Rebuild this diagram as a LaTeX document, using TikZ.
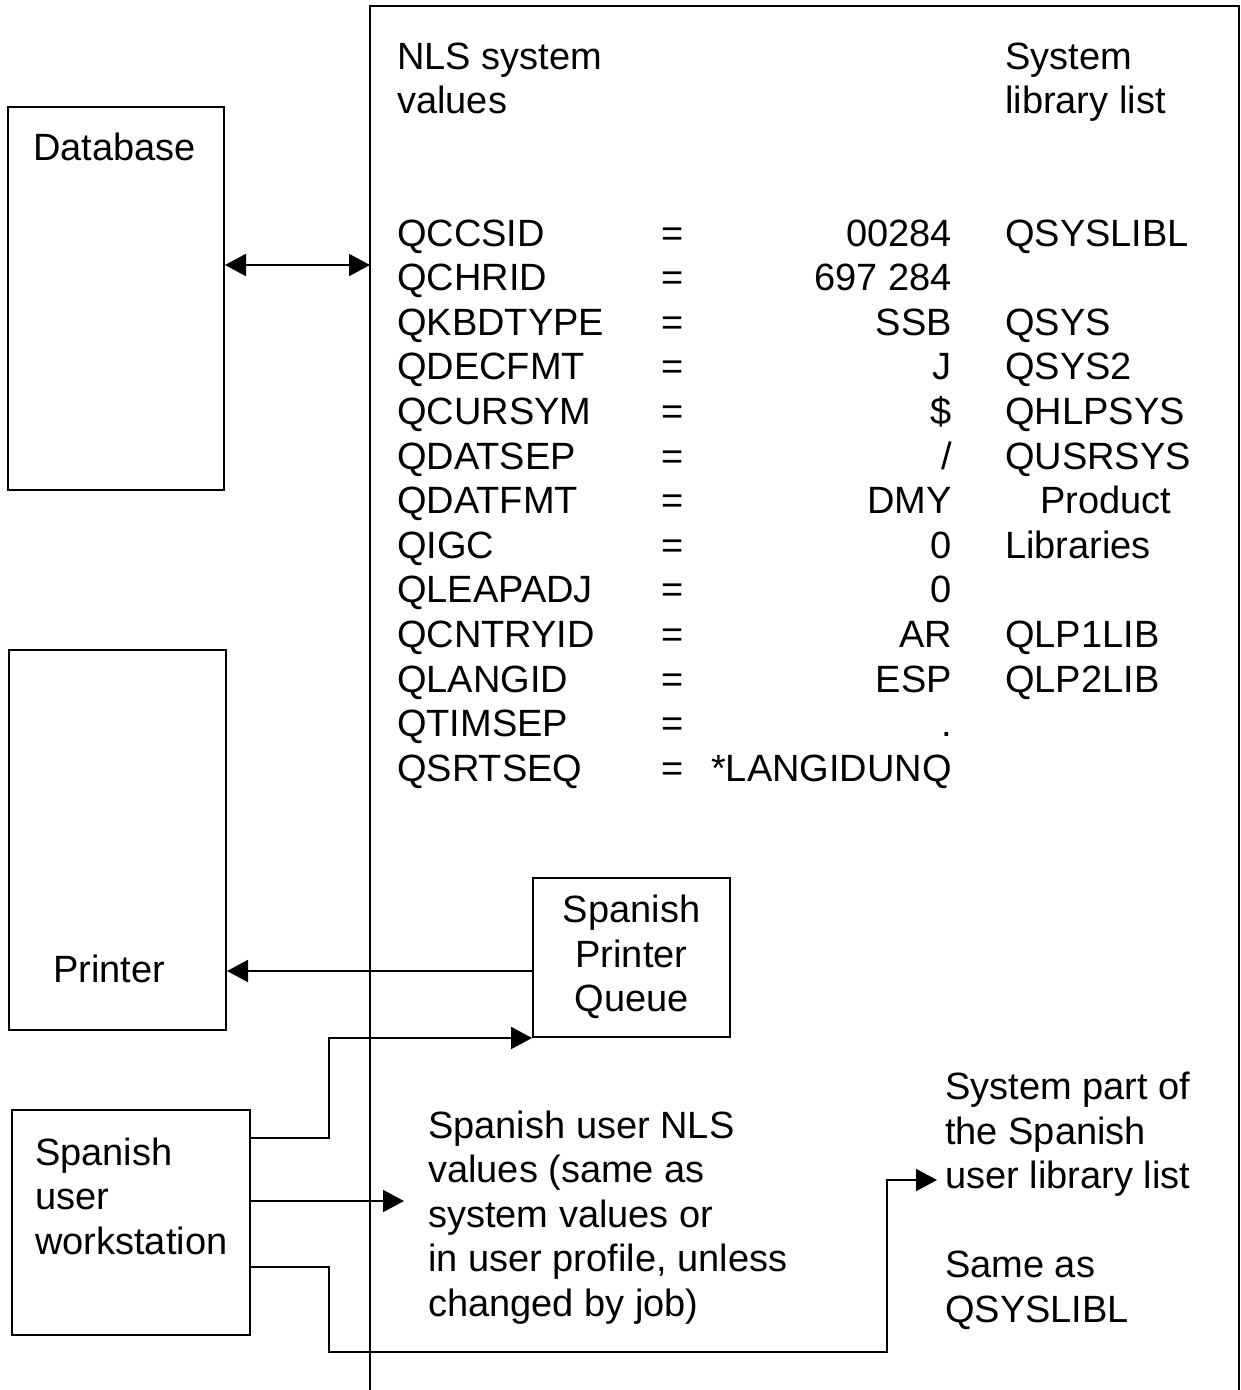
\documentclass[tikz,border=0pt]{standalone}
\usepackage{fontspec}
\setmainfont{Liberation Sans}
\usetikzlibrary{arrows.meta}
\newcommand\tabrow[4]{%
  \node[anchor=base west] (nm#1) at (397,{246+44.6*#1}) {#2};
  \node[anchor=base] (eq#1) at (673,{246+44.6*#1}) {=};
  \node[anchor=base east] (val#1) at (952,{246+44.6*#1}) {#3};
  \node[anchor=base west] (lib#1) at (1005,{246+44.6*#1}) {#4};
}
\begin{document}
\begin{tikzpicture}[x=1pt,y=-1pt,
  every node/.style={font=\fontsize{38}{44.5}\selectfont, inner sep=0pt},
  box/.style={draw, line width=2pt, inner sep=0pt},
  txt/.style={anchor=base west, align=left},
  conn/.style={line width=2pt},
  tip/.style={-{Triangle[length=21pt,width=22pt]}},
  tips/.style={{Triangle[length=21pt,width=22pt]}-{Triangle[length=21pt,width=22pt]}}
]
\useasboundingbox (0,0) rectangle (1241,1390);
% big system area (open at bottom)
\node[minimum width=869pt, minimum height=1384pt, outer sep=0pt] (sys) at (804.5,698) {};
\draw[conn] (sys.south west) -- (sys.north west) -- (sys.north east) -- (sys.south east);

% boxes
\node[box, minimum width=216pt, minimum height=383pt] (db) at (116,298.5) {};
\node[box, minimum width=217pt, minimum height=380pt] (pr) at (117.5,840) {};
\node[box, minimum width=197pt, minimum height=159pt, align=center, text depth=8pt] (queue) at (631.5,957.5) {Spanish\\Printer\\Queue};
\node[box, minimum width=238pt, minimum height=225pt] (ws) at (131,1222.5) {};

% labels (base anchor = baseline of the last line)
\node[txt] (dbl) at (33,160) {Database};
\node[txt] (prl) at (53,982) {Printer};
\node[txt] (wsl) at (35,1254) {Spanish\\user\\workstation};
\node[txt] (hdr1) at (397,113.5) {NLS system\\values};
\node[txt] (hdr2) at (1005,113.5) {System\\library list};
\node[txt] (usr) at (428,1316) {Spanish user NLS\\values (same as\\system values or\\in user profile, unless\\changed by job)};
\node[txt] (syslib) at (945,1322) {System part of\\the Spanish\\user library list\\[44.5pt]Same as\\QSYSLIBL};

% table
\tabrow{0}{QCCSID}{00284}{QSYSLIBL}
\tabrow{1}{QCHRID}{697 284}{}
\tabrow{2}{QKBDTYPE}{SSB}{QSYS}
\tabrow{3}{QDECFMT}{J}{QSYS2}
\tabrow{4}{QCURSYM}{\$}{QHLPSYS}
\tabrow{5}{QDATSEP}{/}{QUSRSYS}
\tabrow{6}{QDATFMT}{DMY}{}
\tabrow{7}{QIGC}{0}{Libraries}
\tabrow{8}{QLEAPADJ}{0}{}
\tabrow{9}{QCNTRYID}{AR}{QLP1LIB}
\tabrow{10}{QLANGID}{ESP}{QLP2LIB}
\tabrow{11}{QTIMSEP}{.}{}
\tabrow{12}{QSRTSEQ}{*LANGIDUNQ}{}
\node[anchor=base west] (prod) at (1040,{246+44.6*6}) {Product};

% connectors
\coordinate (usrin) at (404,1201);
\coordinate (libin) at (937,1180);
\coordinate (j1) at (queue.south west -| 329,0);
\draw[conn, tips] (db.east |- 0,265) -- (sys.west |- 0,265);
\draw[conn, tip] (queue.west |- 0,971) -- (pr.east |- 0,971);
\draw[conn, tip] (ws.east |- 0,1138) -| (j1) -- (queue.south west);
\draw[conn, tip] (ws.east |- 0,1201) -- (usrin);
\draw[conn, tip] (ws.east |- 0,1267) -| (329,1352) -| (887,1180) -- (libin);
\end{tikzpicture}
\end{document}
